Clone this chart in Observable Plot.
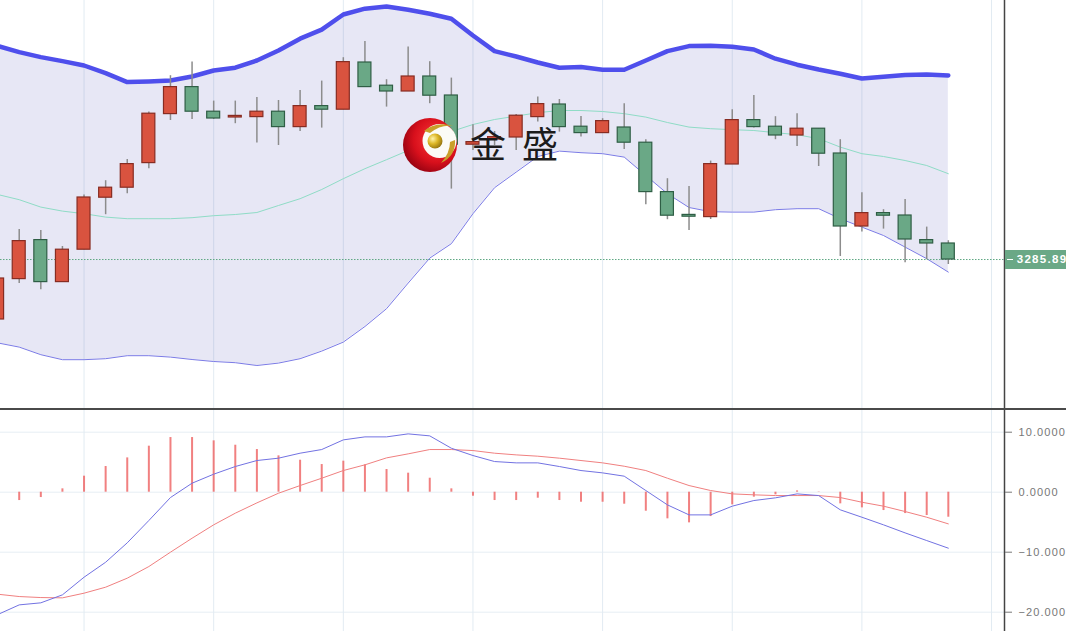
<!DOCTYPE html>
<html><head><meta charset="utf-8">
<script src="https://cdn.jsdelivr.net/npm/d3@7"></script>
<script src="https://cdn.jsdelivr.net/npm/@observablehq/plot@0.6"></script>
<style>
body{margin:0;background:#fff;overflow:hidden}
#wrap{position:relative;width:1066px;height:631px;overflow:hidden;font-family:"Liberation Sans",Arial,sans-serif;background:#fff}
#top,#macd{position:absolute;left:0}
#top{top:0}
#macd{top:410px}
#sep{position:absolute;left:0;top:408px;width:1066px;height:2px;background:#4a4a4a}
#plabel{position:absolute;left:1005px;width:61px;height:19px;background:#6aa886;color:#fff;font-size:11.5px;font-weight:bold;letter-spacing:1.3px;line-height:19px;padding-left:11.7px;box-sizing:border-box;white-space:nowrap;overflow:hidden}
#plabel .tk{position:absolute;left:2px;top:9px;width:6px;height:1px;background:#fff}
</style></head><body>
<div id="wrap"><div id="top"></div><div id="macd"></div><div id="sep"></div></div>
<script>
// ---- candle data (index = trading day) ----
const opens  = [3255.9,3276.1,3295.6,3274.6,3290.8,3316.8,3321.8,3334.1,3358.6,3372.1,3359.8,3356.9,3357.1,3359.8,3352.1,3362.6,3360.8,3384.4,3372.8,3369.9,3377.4,3367.9,3343.3,3345.9,3346.9,3357.1,3363.4,3352.3,3349.1,3351.9,3344.3,3319.6,3308.2,3307.1,3333.4,3355.6,3352.3,3347.9,3351.3,3338.9,3302.4,3309.1,3307.9,3295.6,3293.9];
const closes = [3276.4,3295.1,3274.6,3290.8,3316.9,3321.8,3333.6,3358.8,3372.1,3359.8,3356.4,3357.7,3359.8,3352.1,3362.6,3360.8,3384.6,3372.1,3369.9,3377.4,3367.8,3343.3,3344.6,3347.1,3357.8,3363.6,3352.1,3349.1,3355.1,3344.3,3319.6,3307.8,3307.3,3333.6,3355.6,3352.1,3347.9,3351.3,3338.8,3302.4,3309.1,3307.8,3295.9,3293.9,3285.89];
const highs  = [3278.0,3300.9,3300.4,3292.4,3318.1,3325.3,3335.9,3359.6,3377.8,3384.6,3365.1,3365.1,3366.9,3365.4,3370.4,3375.1,3386.8,3394.9,3375.8,3392.1,3384.8,3376.6,3353.3,3349.9,3358.4,3367.1,3365.9,3357.4,3356.3,3363.8,3345.8,3326.3,3322.4,3335.1,3360.8,3367.9,3357.3,3358.8,3351.3,3345.8,3319.3,3310.8,3315.9,3302.1,3295.3];
const lows   = [3252.0,3273.9,3270.8,3274.6,3290.8,3308.3,3318.8,3331.3,3355.4,3355.9,3355.9,3353.8,3344.1,3342.9,3349.9,3351.6,3360.8,3372.1,3362.1,3369.9,3363.8,3321.1,3340.4,3342.9,3340.4,3354.6,3349.6,3347.1,3349.1,3340.9,3313.3,3305.8,3300.4,3305.9,3333.4,3351.6,3345.8,3342.4,3332.4,3287.4,3299.6,3301.1,3284.3,3285.8,3283.4];
// ---- Bollinger bands ----
const upper  = [3392.7,3389.6,3387.1,3385.1,3382.9,3379.1,3374.6,3374.9,3375.4,3377.4,3380.4,3381.8,3385.4,3390.4,3396.3,3400.8,3408.4,3411.3,3412.4,3410.8,3408.8,3406.3,3397.9,3390.1,3387.4,3384.4,3381.8,3382.1,3380.8,3380.8,3385.4,3390.1,3392.6,3392.8,3392.3,3390.9,3386.3,3383.3,3380.9,3378.8,3376.4,3377.3,3378.1,3378.4,3377.9];
const middle = [3318.4,3315.8,3312.1,3310.1,3308.8,3307.1,3306.3,3306.3,3306.3,3306.8,3307.8,3308.4,3309.4,3312.9,3316.3,3320.9,3326.3,3331.3,3335.8,3340.4,3345.8,3349.9,3353.4,3355.9,3357.6,3359.3,3360.4,3360.4,3359.9,3358.8,3357.1,3354.4,3352.1,3351.3,3350.8,3350.4,3349.3,3348.3,3346.3,3342.1,3338.8,3337.4,3335.4,3332.9,3328.8];
const lower  = [3244.2,3242.1,3238.3,3235.8,3235.8,3236.3,3237.8,3237.8,3237.1,3235.9,3234.9,3234.3,3232.9,3234.1,3236.3,3240.1,3244.6,3252.4,3261.3,3274.1,3286.6,3293.8,3308.8,3321.8,3329.6,3337.4,3340.1,3339.3,3338.8,3337.1,3327.9,3318.8,3311.9,3309.8,3309.6,3309.6,3310.8,3311.3,3311.3,3306.3,3302.1,3297.9,3292.1,3286.3,3279.6];
// ---- MACD ----
const hist = [-1.2,-1.39,-0.89,0.56,2.67,4.28,5.72,7.67,9.11,9.11,8.56,7.83,7.11,6.06,5.33,4.61,5.17,4.56,3.78,3.17,2.33,0.56,-0.67,-1.39,-1.39,-1.0,-1.39,-1.67,-1.67,-2.0,-3.17,-4.44,-5.11,-4.06,-2.11,-0.83,-0.44,0.22,-0.05,-1.94,-2.61,-3.06,-3.56,-3.89,-4.17];
const dif  = [-20.4,-18.78,-18.44,-17.11,-14.17,-11.67,-8.44,-4.72,-0.89,1.5,3.0,4.28,5.28,5.67,6.5,7.11,8.72,9.22,9.22,9.72,9.39,7.33,6.11,5.11,4.89,4.89,4.28,3.61,3.22,2.67,0.28,-2.11,-3.78,-3.78,-2.33,-1.39,-0.94,-0.28,-0.56,-2.94,-4.17,-5.44,-6.78,-8.06,-9.33];
const dea  = [-17.0,-17.39,-17.56,-17.61,-16.83,-15.83,-14.33,-12.39,-10.0,-7.67,-5.44,-3.5,-1.78,-0.17,1.11,2.33,3.61,4.56,5.72,6.39,7.11,7.11,6.94,6.5,6.22,6.0,5.67,5.28,4.89,4.33,3.61,2.33,1.11,0.28,-0.28,-0.44,-0.56,-0.56,-0.56,-0.89,-1.67,-2.33,-3.22,-4.17,-5.28];
// ---- ticks ----
const gridTicks = [4,10,16,22,28,34,40,46];
const macdTicks = [10,0,-10,-20];
const lastClose = closes[closes.length-1];

const idx = d3.range(opens.length);
const candles = idx.map(i => ({i, open: opens[i], close: closes[i], high: highs[i], low: lows[i]}));
const ups = candles.filter(d => d.close >= d.open);
const downs = candles.filter(d => d.close < d.open);

const W = 1066, MR = 62;
const xDomain = [0.134, 46.6];
const bodyHalf = 0.3;

const topPlot = Plot.plot({
  width: W, height: 409, marginLeft: 0, marginRight: MR, marginTop: 0, marginBottom: 0,
  style: {background: "transparent", overflow: "hidden", fontFamily: "Liberation Sans, Arial, sans-serif"},
  x: {type: "linear", domain: xDomain, axis: null},
  y: {domain: [3210.9, 3415.4], axis: null},
  marks: [
    Plot.ruleX(gridTicks, {x: d => d, stroke: "#e2ebf2", strokeWidth: 1}),
    Plot.area(idx, {x1: i => i, y1: i => lower[i], y2: i => upper[i], fill: "#5656b8", fillOpacity: 0.14}),
    Plot.line(idx, {x: i => i, y: i => middle[i], stroke: "#8fdcc6", strokeWidth: 1}),
    Plot.line(idx, {x: i => i, y: i => lower[i], stroke: "#7b7be6", strokeWidth: 1}),
    Plot.line(idx, {x: i => i, y: i => upper[i], stroke: "#4f4fec", strokeWidth: 4.5, strokeLinejoin: "round"}),
    Plot.ruleY([lastClose], {y: d => d, stroke: "#5fa884", strokeDasharray: "1.5,1.5", strokeWidth: 1}),
    Plot.ruleX(candles, {x: "i", y1: "low", y2: "high", stroke: "#8c8c8c", strokeWidth: 1.5, ariaLabel: "wick"}),
    Plot.rect(ups, {x1: d => d.i - bodyHalf, x2: d => d.i + bodyHalf, y1: "open", y2: "close", fill: "#d9533f", stroke: "#872c22", strokeWidth: 1.2}),
    Plot.rect(downs, {x1: d => d.i - bodyHalf, x2: d => d.i + bodyHalf, y1: "open", y2: "close", fill: "#6aa886", stroke: "#2f5e45", strokeWidth: 1.2}),
    Plot.frame({anchor: "right", stroke: "#444", strokeWidth: 1.5})
  ]
});

// watermark logo inserted beneath the candles
{
  const svg = topPlot;
  const ns = "http://www.w3.org/2000/svg";
  const logo = document.createElementNS(ns, "g");
  logo.innerHTML = `
    <defs>
      <radialGradient id="lgRed" cx="0.62" cy="0.4" r="0.7">
        <stop offset="0" stop-color="#ff3a3a"/><stop offset="0.6" stop-color="#d8101c"/><stop offset="1" stop-color="#8c0010"/>
      </radialGradient>
      <radialGradient id="lgGold" cx="0.35" cy="0.35" r="0.7">
        <stop offset="0" stop-color="#fff3a8"/><stop offset="0.5" stop-color="#dcb625"/><stop offset="1" stop-color="#947410"/>
      </radialGradient>
    </defs>
    <circle cx="430" cy="145" r="27" fill="url(#lgRed)"/>
    <circle cx="439.5" cy="141" r="17" fill="#fbfbf6"/>
    <path d="M424 131 Q436 121 453 126 Q441 124 430 133 Z" fill="#c9a02a"/>
    <path d="M455 140 Q456 156 441 163 Q450 153 450 142 Z" fill="#c9a02a"/>
    <circle cx="435" cy="141" r="7.5" fill="url(#lgGold)"/>
    <text x="470" y="158" text-anchor="start" font-size="36" letter-spacing="16" fill="#1c1c1c" style="font-family:'Noto Sans CJK SC';text-anchor:start">金盛</text>`;
  const wick = svg.querySelector('g[aria-label="wick"]');
  svg.insertBefore(logo, wick || null);
}
document.getElementById("top").appendChild(topPlot);

// last-price label at the right edge, positioned with the plot's y scale
{
  const yy = topPlot.scale("y").apply(lastClose);
  const lab = document.createElement("div");
  lab.id = "plabel";
  lab.style.top = (yy - 9.5) + "px";
  lab.innerHTML = '<span class="tk"></span>' + d3.format(".2f")(lastClose);
  document.getElementById("wrap").appendChild(lab);
}

const macdPlot = Plot.plot({
  width: W, height: 221, marginLeft: 0, marginRight: MR, marginTop: 0, marginBottom: 0,
  style: {background: "transparent", overflow: "hidden", color: "#777", letterSpacing: "1.1px", fontFamily: "Liberation Sans, Arial, sans-serif"},
  x: {type: "linear", domain: xDomain, axis: null},
  y: {domain: [-23.217, 13.617], axis: null},
  marks: [
    Plot.ruleY(macdTicks, {y: d => d, stroke: "#e6eef4", strokeWidth: 1}),
    Plot.ruleX(gridTicks, {x: d => d, stroke: "#e2ebf2", strokeWidth: 1}),
    Plot.ruleX(idx, {x: i => i, y1: 0, y2: i => hist[i], stroke: "#ee6060", strokeOpacity: 0.8, strokeWidth: 2}),
    Plot.line(idx, {x: i => i, y: i => dea[i], stroke: "#f08080", strokeWidth: 1}),
    Plot.line(idx, {x: i => i, y: i => dif[i], stroke: "#7272e2", strokeWidth: 1}),
    Plot.frame({anchor: "right", stroke: "#444", strokeWidth: 1.5}),
    Plot.axisY({anchor: "right", ticks: macdTicks, tickFormat: d3.format(".4f"), tickSize: 7, tickPadding: 7, fontSize: 11})
  ]
});
document.getElementById("macd").appendChild(macdPlot);
</script>
</body></html>
